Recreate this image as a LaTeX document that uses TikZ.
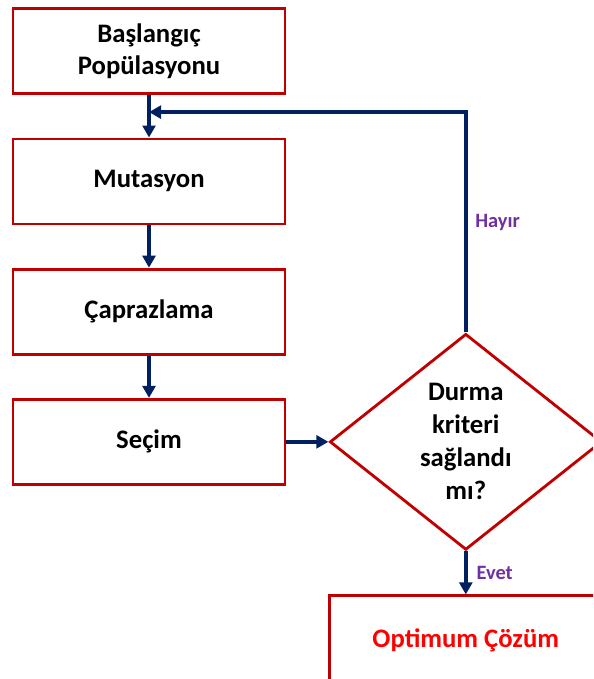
\documentclass[tikz,border=0pt]{standalone}
\usepackage{fontspec}
\setmainfont{Carlito}
\usetikzlibrary{positioning,shapes.geometric,arrows.meta}
\definecolor{boxred}{HTML}{C00000}
\definecolor{flowblue}{HTML}{002060}
\definecolor{answerpurple}{HTML}{7030A0}
\definecolor{resultred}{HTML}{FF0000}

\begin{document}
\begin{tikzpicture}[
        node distance=1.06cm,
        block/.style={draw=boxred, line width=2pt, minimum width=6.8cm, minimum height=2.125cm, align=center, font=\fontsize{19}{23}\selectfont\bfseries},
        decision/.style={draw=boxred, line width=2pt, diamond, aspect=1.26, minimum width=6.8cm, minimum height=5.4cm, inner sep=0pt, align=center, font=\fontsize{19}{23.5}\selectfont\bfseries},
        flow/.style={draw=flowblue, line width=2.8pt, -{Triangle[length=0.3cm, width=0.32cm]}},
        answer/.style={text=answerpurple, font=\fontsize{14.5}{17}\selectfont\bfseries}
    ]

            \clip (0,0) rectangle (14.825,-16.975);

            \node[block] (start) at (3.725,-1.28) {Başlangıç\\Popülasyonu};
            \node[block, below=of start] (mutation) {Mutasyon};
            \node[block, below=of mutation] (crossover) {Çaprazlama};
            \node[block, below=of crossover] (selection) {Seçim};
            \node[decision, right=1.05cm of selection] (stop) {Durma\\kriteri\\sağlandı\\mı?};
            \node[block, below=1.08cm of stop, minimum height=2.2cm, text=resultred] (result) {Optimum Çözüm};
            \coordinate[below=0.425cm of start.south] (loop);

            \draw[flow] (start) -- (mutation);
            \draw[flow] (mutation) -- (crossover);
            \draw[flow] (crossover) -- (selection);
            \draw[flow] (selection) -- (stop);
            \draw[flow] (stop.north) |- node[answer, pos=0.25, right=2pt] {Hayır} (loop);
            \draw[flow] (stop.south) -- node[answer, right=3pt] {Evet} (result);

        \end{tikzpicture}
\end{document}
